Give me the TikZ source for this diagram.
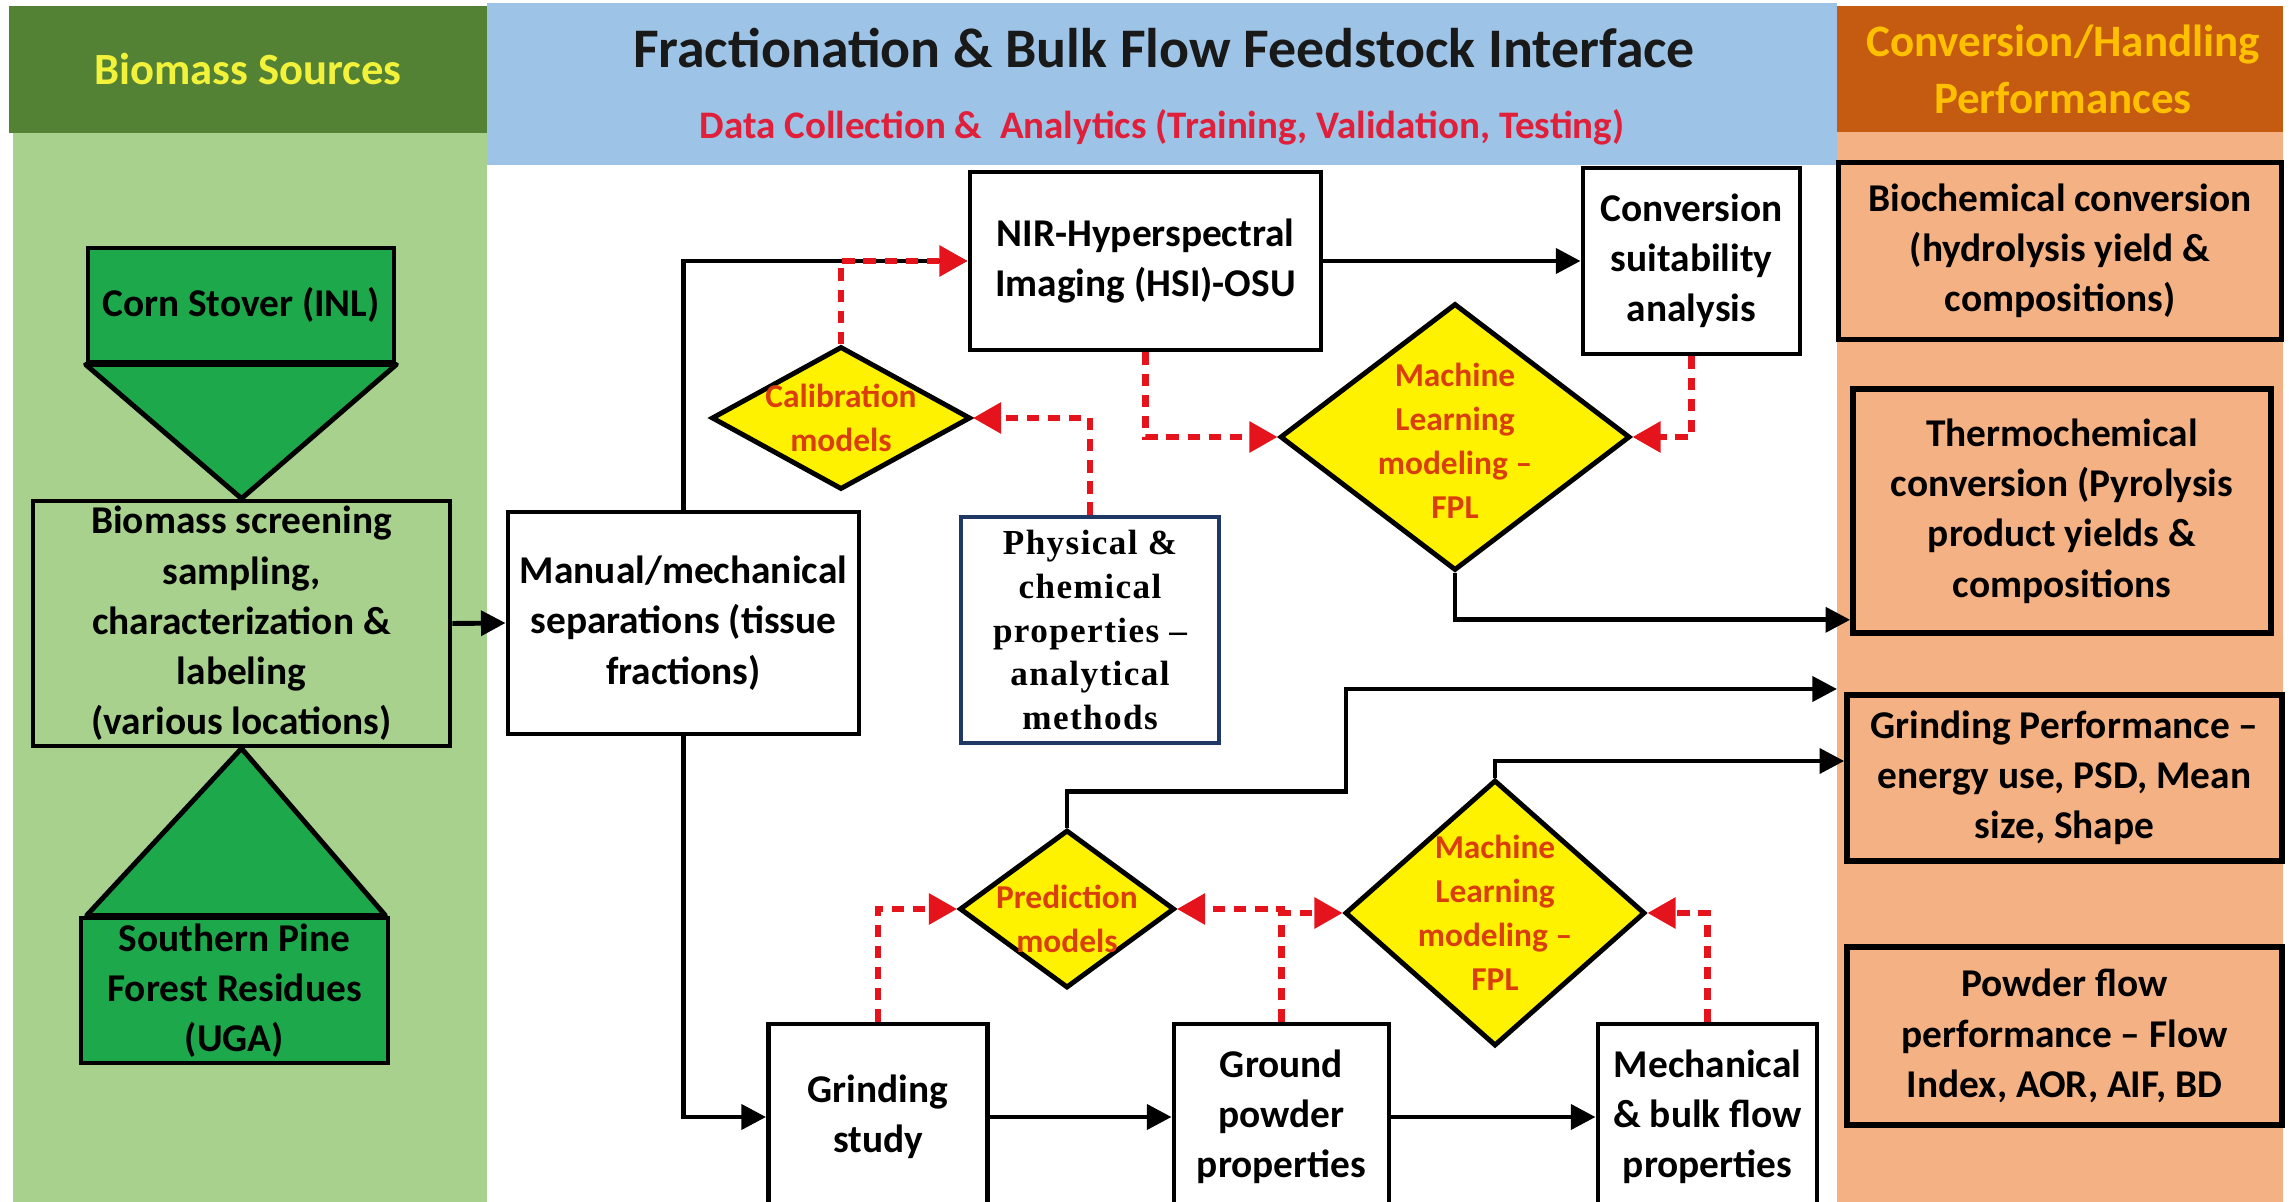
\documentclass[tikz,border=0pt]{standalone}
\usepackage{fontspec}
\setmainfont{Carlito}
\newfontfamily\propfont{Liberation Serif}[LetterSpace=4]
\usepackage{tikz}
\usetikzlibrary{arrows.meta,shapes.geometric,calc}
\definecolor{darkgrass}{HTML}{548235}
\definecolor{palegrass}{HTML}{A9D18E}
\definecolor{skyband}{HTML}{9DC3E6}
\definecolor{rust}{HTML}{C55A11}
\definecolor{peach}{HTML}{F4B183}
\definecolor{leafgreen}{HTML}{1EA84C}
\definecolor{lemon}{HTML}{F2F23A}
\definecolor{amber}{HTML}{FFC000}
\definecolor{datared}{HTML}{E0203A}
\definecolor{mlred}{HTML}{DA3E0C}
\definecolor{dashred}{HTML}{E5131B}
\definecolor{navyline}{HTML}{1F3864}

\begin{document}
\begin{tikzpicture}[
  font=\bfseries\fontsize{11.2}{14.3}\selectfont,
  box/.style={draw, line width=1.4pt, fill=white, align=center, inner sep=1pt},
  srcbox/.style={box, fill=leafgreen},
  outbox/.style={box, fill=peach, line width=1.6pt},
  decision/.style={diamond, draw, line width=1.4pt, fill=yellow, inner sep=0pt},
  mltext/.style={text=mlred, align=center, font=\bfseries\fontsize{9.5}{12.5}\selectfont},
  flow/.style={-{Triangle[length=7pt,width=7pt]}, line width=1.4pt},
  feed/.style={-{Triangle[length=8pt,width=8.5pt]}, line width=1.8pt, dashred,
    dash pattern=on 3.5pt off 2.5pt}
]
\useasboundingbox (0,0) rectangle (22.9,-12.02);
% column bands
\fill[palegrass] (0.13,-1.33) rectangle (4.87,-12.1);
\fill[darkgrass] (0.09,-0.06) rectangle (4.87,-1.33);
\fill[skyband] (4.87,-0.03) rectangle (18.37,-1.65);
\fill[peach] (18.37,-1.32) rectangle (22.83,-12.1);
\fill[rust] (18.37,-0.06) rectangle (22.83,-1.32);

\node[text=lemon, font=\bfseries\fontsize{12.7}{15}\selectfont] (srchead) at (2.48,-0.69) {Biomass Sources};
\node[text=black!90, font=\bfseries\fontsize{15.9}{18}\selectfont] (title) at (11.64,-0.48) {Fractionation \& Bulk Flow Feedstock Interface};
\node[text=datared, font=\bfseries\fontsize{11.1}{13}\selectfont] (subtitle) at (11.62,-1.27) {Data Collection \&\ \ Analytics (Training, Validation, Testing)};
\node[text=amber, align=center, font=\bfseries\fontsize{12.8}{16.2}\selectfont] (outhead) at (20.63,-0.69) {Conversion/Handling\\Performances};

% biomass sources
\node[srcbox, minimum width=3.06cm, minimum height=1.14cm] (corn) at (2.41,-3.05) {Corn Stover (INL)};
\node[box, fill=palegrass, inner ysep=0pt, minimum width=4.17cm, minimum height=2.45cm] (screen) at (2.415,-6.235)
  {Biomass screening\\sampling,\\characterization \&\\labeling\\(various locations)};
\node[srcbox, inner ysep=0pt, minimum width=3.07cm, minimum height=1.45cm] (pine) at (2.345,-9.905)
  {Southern Pine\\Forest Residues\\(UGA)};
\filldraw[fill=leafgreen, line width=1.4pt, line join=round] (corn.south west) -- (corn.south east) -- (screen.north) -- cycle;
\filldraw[fill=leafgreen, line width=1.4pt, line join=round] ([xshift=0.08cm]pine.north west) -- ([xshift=-0.05cm]pine.north east) -- (screen.south) -- cycle;

% interface
\node[box, minimum width=3.51cm, minimum height=2.22cm] (manual) at (6.835,-6.23) {Manual/mechanical\\separations (tissue\\fractions)};
\node[box, minimum width=3.51cm, minimum height=1.78cm] (nir) at (11.455,-2.61) {NIR-Hyperspectral\\Imaging (HSI)-OSU};
\node[box, minimum width=2.17cm, minimum height=1.86cm] (csa) at (16.915,-2.61) {Conversion\\suitability\\analysis};
\node[box, draw=navyline, line width=1.3pt, minimum width=2.58cm, minimum height=2.26cm,
  font=\propfont\bfseries\fontsize{10}{12.4}\selectfont] (phys) at (10.9,-6.3)
  {Physical \&\\chemical\\properties –\\analytical\\methods};
\node[decision, minimum width=2.59cm, minimum height=1.43cm,
  label={[mltext]center:Calibration\\models}] (calib) at (8.41,-4.18) {};
\node[decision, minimum width=3.5cm, minimum height=2.67cm,
  label={[mltext, yshift=-0.04cm]center:Machine\\Learning\\modeling –\\FPL}] (mlA) at (14.55,-4.37) {};
\node[decision, minimum width=2.15cm, minimum height=1.58cm,
  label={[mltext, yshift=-0.1cm]center:Prediction\\models}] (pred) at (10.67,-9.09) {};
\node[decision, minimum width=3.0cm, minimum height=2.66cm,
  label={[mltext]center:Machine\\Learning\\modeling –\\FPL}] (mlB) at (14.95,-9.13) {};
\node[box, minimum width=2.19cm, minimum height=1.86cm] (grind) at (8.78,-11.17) {Grinding\\study};
\node[box, minimum width=2.15cm, minimum height=1.86cm] (ground) at (12.815,-11.17) {Ground\\powder\\properties};
\node[box, minimum width=2.19cm, minimum height=1.86cm] (mech) at (17.075,-11.17) {Mechanical\\\& bulk flow\\properties};

% performances
\node[outbox, minimum width=4.43cm, minimum height=1.77cm] (biochem) at (20.6,-2.51) {Biochemical conversion\\(hydrolysis yield \&\\compositions)};
\node[outbox, minimum width=4.18cm, minimum height=2.44cm] (thermo) at (20.62,-5.11) {Thermochemical\\conversion (Pyrolysis\\product yields \&\\compositions};
\node[outbox, minimum width=4.35cm, minimum height=1.66cm] (gperf) at (20.645,-7.78) {Grinding Performance –\\energy use, PSD, Mean\\size, Shape};
\node[outbox, minimum width=4.35cm, minimum height=1.78cm] (pflow) at (20.645,-10.36) {Powder flow\\performance – Flow\\Index, AOR, AIF, BD};
\coordinate (gperfIn) at (18.37,-6.89);

% flows
\draw[flow] (screen.east) -- (manual.west);
\draw[flow] (manual.north) |- (nir.west);
\draw[flow] (nir.east) -- (csa.west);
\draw[flow] (manual.south) |- (grind.west);
\draw[flow] (grind.east) -- (ground.west);
\draw[flow] (ground.east) -- (mech.west);
\draw[flow] (mlA.south) |- ([yshift=0.16cm]thermo.south west);
\draw[flow] (pred.north) -- ++(0,0.36) -| (13.46,-6.89) -- (gperfIn);
\draw[flow] (mlB.north) |- ([yshift=0.17cm]gperf.west);

% data feeds
\draw[feed] (calib.north) |- (nir.west);
\draw[feed] (phys.north) |- (calib.east);
\draw[feed] (nir.south) |- (mlA.west);
\draw[feed] (csa.south) |- (mlA.east);
\draw[feed] (grind.north) |- (pred.west);
\draw[feed] (ground.north) |- (pred.east);
\draw[feed] (ground.north) |- (mlB.west);
\draw[feed] (mech.north) |- (mlB.east);
\end{tikzpicture}
\end{document}
